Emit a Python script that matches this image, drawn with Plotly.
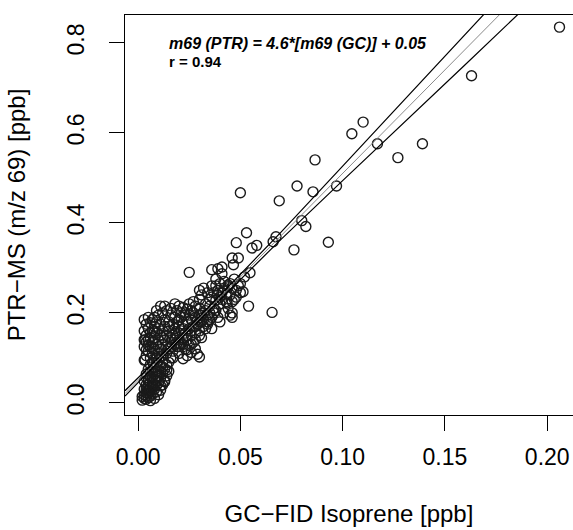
import plotly.graph_objects as go

# ---- data (GC-FID isoprene vs PTR-MS m/z 69, ppb) ----
gc_x = [
    # sparse upper points
    0.206, 0.163, 0.110, 0.1045, 0.117, 0.139, 0.127, 0.097, 0.093, 0.0865,
    0.050, 0.0777, 0.0855, 0.069, 0.082, 0.080, 0.0762, 0.0674, 0.0660, 0.053,
    0.048, 0.0557, 0.058, 0.049, 0.0466, 0.036, 0.041, 0.041, 0.0547, 0.0513,
    0.054, 0.0655, 0.046, 0.046, 0.044, 0.025, 0.030, 0.030, 0.013, 0.009,
    0.039, 0.046, 0.0435,
    # low dense streak
    0.002, 0.003, 0.004, 0.005, 0.003, 0.004, 0.006, 0.005, 0.007, 0.006,
    0.004, 0.008, 0.007, 0.005, 0.009, 0.006, 0.008, 0.010, 0.004, 0.007,
    0.009, 0.011, 0.005, 0.008, 0.010, 0.012, 0.006, 0.009, 0.011, 0.013,
    0.003, 0.002, 0.006, 0.008, 0.010, 0.011, 0.012, 0.013, 0.014, 0.003,
    0.004, 0.005, 0.007, 0.009, 0.006, 0.007, 0.010, 0.012, 0.014, 0.015,
    0.009, 0.008, 0.011, 0.004, 0.005, 0.014, 0.015,
    0.004, 0.005, 0.006, 0.007, 0.008, 0.009, 0.010, 0.011, 0.012, 0.006,
    # middle mass
    0.003, 0.004, 0.005, 0.003, 0.004, 0.006, 0.007, 0.006, 0.008, 0.005,
    0.007, 0.009, 0.004, 0.006, 0.008, 0.010, 0.005, 0.007, 0.009, 0.011,
    0.004, 0.006, 0.008, 0.010, 0.012, 0.003, 0.007, 0.009, 0.011, 0.013,
    0.010, 0.011, 0.012, 0.013, 0.014, 0.015, 0.016, 0.012, 0.014, 0.016,
    0.017, 0.018, 0.015, 0.017, 0.019, 0.013, 0.015, 0.008, 0.005, 0.009,
    0.011, 0.006, 0.008, 0.010, 0.012, 0.004, 0.003, 0.005, 0.007, 0.003,
    0.0034, 0.0034,
    # upper-middle mass
    0.010, 0.012, 0.014, 0.016, 0.018, 0.020, 0.013, 0.016, 0.019, 0.021,
    0.023, 0.018, 0.020, 0.022, 0.024, 0.026, 0.015, 0.018, 0.020, 0.022,
    0.024, 0.026, 0.028, 0.017, 0.019, 0.021, 0.023, 0.025, 0.027, 0.029,
    0.031, 0.020, 0.022, 0.024, 0.026, 0.028, 0.030, 0.019, 0.021, 0.023,
    0.025, 0.027, 0.029, 0.031, 0.033, 0.017, 0.020, 0.022, 0.024, 0.026,
    0.028, 0.011, 0.009, 0.025, 0.028, 0.030, 0.032, 0.034, 0.035, 0.030,
    0.016, 0.018, 0.020, 0.022, 0.024, 0.026, 0.028, 0.030, 0.032, 0.018,
    0.021, 0.023, 0.025, 0.027, 0.029, 0.031, 0.033, 0.035, 0.014, 0.016,
    0.020, 0.022, 0.024, 0.026, 0.028, 0.030, 0.032, 0.034, 0.036, 0.038,
    # right part of cluster
    0.027, 0.030, 0.033, 0.035, 0.037, 0.031, 0.034, 0.036, 0.038, 0.040,
    0.032, 0.036, 0.039, 0.041, 0.043, 0.038, 0.042, 0.044, 0.046, 0.048,
    0.037, 0.039, 0.042, 0.044, 0.046, 0.048, 0.050, 0.052, 0.034, 0.036,
    0.040, 0.045, 0.040, 0.050,
    0.035, 0.037, 0.039, 0.041, 0.043, 0.045, 0.047, 0.042, 0.045, 0.047,
    0.049, 0.038, 0.040,
]
ptr_y = [
    # sparse upper points
    0.835, 0.727, 0.624, 0.598, 0.576, 0.576, 0.545, 0.482, 0.357, 0.540,
    0.467, 0.482, 0.469, 0.449, 0.392, 0.405, 0.340, 0.369, 0.358, 0.378,
    0.356, 0.344, 0.350, 0.322, 0.307, 0.296, 0.302, 0.287, 0.289, 0.247,
    0.215, 0.201, 0.200, 0.190, 0.258, 0.290, 0.250, 0.102, 0.047, 0.069,
    0.298, 0.322, 0.222,
    # low dense streak
    0.006, 0.010, 0.008, 0.012, 0.018, 0.022, 0.015, 0.028, 0.020, 0.034,
    0.040, 0.030, 0.045, 0.050, 0.038, 0.058, 0.052, 0.045, 0.064, 0.068,
    0.060, 0.055, 0.075, 0.078, 0.070, 0.065, 0.085, 0.088, 0.082, 0.076,
    0.030, 0.014, 0.005, 0.010, 0.018, 0.028, 0.040, 0.050, 0.060, 0.048,
    0.056, 0.040, 0.036, 0.024, 0.070, 0.090, 0.095, 0.090, 0.085, 0.070,
    0.100, 0.065, 0.038, 0.030, 0.020, 0.073, 0.090,
    0.015, 0.035, 0.045, 0.055, 0.040, 0.050, 0.060, 0.070, 0.080, 0.025,
    # middle mass
    0.095, 0.105, 0.115, 0.125, 0.135, 0.100, 0.110, 0.125, 0.120, 0.140,
    0.135, 0.130, 0.150, 0.155, 0.145, 0.140, 0.165, 0.160, 0.155, 0.150,
    0.175, 0.178, 0.170, 0.165, 0.160, 0.185, 0.185, 0.180, 0.175, 0.170,
    0.110, 0.120, 0.130, 0.140, 0.150, 0.120, 0.135, 0.105, 0.110, 0.100,
    0.115, 0.130, 0.160, 0.150, 0.145, 0.185, 0.180, 0.190, 0.190, 0.098,
    0.102, 0.145, 0.158, 0.125, 0.145, 0.118, 0.140, 0.128, 0.122, 0.160,
    0.140, 0.096,
    # upper-middle mass
    0.195, 0.200, 0.205, 0.195, 0.190, 0.185, 0.215, 0.210, 0.205, 0.200,
    0.195, 0.220, 0.215, 0.212, 0.208, 0.205, 0.170, 0.165, 0.170, 0.175,
    0.180, 0.185, 0.190, 0.175, 0.180, 0.160, 0.155, 0.165, 0.170, 0.175,
    0.180, 0.140, 0.145, 0.140, 0.150, 0.155, 0.160, 0.125, 0.130, 0.120,
    0.128, 0.135, 0.108, 0.145, 0.165, 0.100, 0.110, 0.098, 0.105, 0.112,
    0.120, 0.215, 0.205, 0.220, 0.215, 0.210, 0.200, 0.195, 0.185, 0.195,
    0.125, 0.140, 0.155, 0.165, 0.150, 0.160, 0.170, 0.180, 0.185, 0.155,
    0.190, 0.200, 0.195, 0.200, 0.185, 0.195, 0.205, 0.200, 0.125, 0.145,
    0.125, 0.130, 0.118, 0.130, 0.140, 0.150, 0.170, 0.180, 0.190, 0.205,
    # right part of cluster
    0.225, 0.230, 0.220, 0.215, 0.210, 0.240, 0.245, 0.235, 0.228, 0.220,
    0.255, 0.260, 0.250, 0.245, 0.240, 0.275, 0.270, 0.262, 0.255, 0.250,
    0.200, 0.190, 0.200, 0.210, 0.225, 0.235, 0.265, 0.280, 0.175, 0.165,
    0.180, 0.195, 0.235, 0.245,
    0.230, 0.245, 0.240, 0.230, 0.225, 0.240, 0.230, 0.255, 0.265, 0.275,
    0.260, 0.260, 0.265,
]

# regression shown in the annotation
fit_slope = 4.6
fit_intercept = 0.05
fit_x = [-0.0064, 0.2126]

# confidence-band lines
band_x = [-0.0064, 0.005, 0.02, 0.04, 0.07, 0.10, 0.13, 0.16, 0.19]
band_upper = [0.027, 0.077, 0.145, 0.239, 0.380, 0.526, 0.674, 0.820, 0.966]
band_lower = [0.015, 0.069, 0.139, 0.229, 0.364, 0.494, 0.622, 0.752, 0.882]

x_ticks = [0.0, 0.05, 0.10, 0.15, 0.20]
x_tick_labels = ["0.00", "0.05", "0.10", "0.15", "0.20"]
y_ticks = [0.0, 0.2, 0.4, 0.6, 0.8]
y_tick_labels = ["0.0", "0.2", "0.4", "0.6", "0.8"]

FONT = "Liberation Sans, Arial, Helvetica, sans-serif"

fig = go.Figure()
fig.add_trace(go.Scatter(
    x=gc_x, y=ptr_y, mode="markers",
    marker=dict(symbol="circle-open", size=10, color="#1a1a1a",
                line=dict(width=1.4, color="#1a1a1a")),
    showlegend=False, hoverinfo="x+y",
))
fig.add_trace(go.Scatter(
    x=band_x, y=band_upper, mode="lines",
    line=dict(color="black", width=1.2), showlegend=False,
))
fig.add_trace(go.Scatter(
    x=band_x, y=band_lower, mode="lines",
    line=dict(color="black", width=1.2), showlegend=False,
))
fig.add_trace(go.Scatter(
    x=fit_x, y=[fit_slope * v + fit_intercept for v in fit_x], mode="lines",
    line=dict(color="#8a8a8a", width=1), showlegend=False,
))

fig.add_annotation(
    x=167, y=43, xref="x domain", yref="y domain", showarrow=False,
    text="<b><i>m69 (PTR) = 4.6*[m69 (GC)] + 0.05</i></b>",
    font=dict(family=FONT, size=16, color="black"),
    xanchor="left", yanchor="middle",
)
fig.add_annotation(
    x=167, y=62, xref="x domain", yref="y domain", showarrow=False,
    text="<b>r = 0.94</b>",
    font=dict(family=FONT, size=15, color="black"),
    xanchor="left", yanchor="middle",
)

# convert annotation pixel positions into domain fractions
L, T, W, H = 125, 15, 573, 530
PW, PH = W - L, 415 - T
for a in fig.layout.annotations:
    a.x = (a.x - L) / PW
    a.y = 1 - (a.y - T) / PH

fig.update_layout(
    width=W, height=H,
    margin=dict(l=L, r=0, t=T, b=H - 415, pad=0),
    paper_bgcolor="white", plot_bgcolor="white",
    font=dict(family=FONT, color="black"),
)
fig.update_xaxes(
    range=[-0.0064, 0.2126], tickvals=x_ticks, ticktext=x_tick_labels,
    ticks="outside", ticklen=15, tickwidth=1.2, tickcolor="black",
    showline=True, linecolor="black", linewidth=1.2, mirror=True,
    showgrid=False, zeroline=False,
    tickfont=dict(size=23, family=FONT, color="black"),
    ticklabelstandoff=6,
    title=dict(text="GC\u2212FID Isoprene [ppb]", font=dict(size=24, family=FONT),
               standoff=36),
)
fig.update_yaxes(
    range=[-0.027, 0.862], tickvals=y_ticks, ticktext=y_tick_labels,
    ticks="outside", ticklen=15, tickwidth=1.2, tickcolor="black",
    showline=True, linecolor="black", linewidth=1.2, mirror=False,
    showgrid=False, zeroline=False, tickangle=-90,
    tickfont=dict(size=23, family=FONT, color="black"),
    ticklabelstandoff=16,
    title=dict(text="PTR\u2212MS (m/z 69) [ppb]", font=dict(size=24, family=FONT),
               standoff=30),
)

fig.write_html("out.html")
